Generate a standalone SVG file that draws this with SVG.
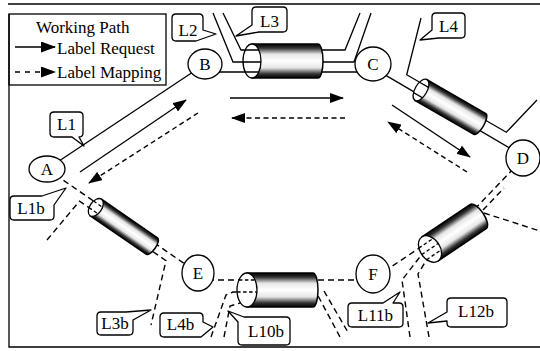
<svg xmlns="http://www.w3.org/2000/svg" width="540" height="351" viewBox="0 0 540 351" font-family="'Liberation Serif', 'DejaVu Serif', serif">
<defs>
<marker id="ah" markerWidth="14" markerHeight="10" refX="13" refY="5" orient="auto" markerUnits="userSpaceOnUse"><path d="M0,0 L14,5 L0,10 Z" fill="#000"/></marker>
<marker id="ahL" markerWidth="15" markerHeight="11" refX="14" refY="5.5" orient="auto" markerUnits="userSpaceOnUse"><path d="M0,0 L15,5.5 L0,11 Z" fill="#000"/></marker>
<linearGradient id="tg" x1="0" y1="0" x2="0" y2="1">
<stop offset="0" stop-color="#000"/>
<stop offset="0.12" stop-color="#333"/>
<stop offset="0.3" stop-color="#e6e6e6"/>
<stop offset="0.5" stop-color="#fff"/>
<stop offset="0.7" stop-color="#e6e6e6"/>
<stop offset="0.88" stop-color="#333"/>
<stop offset="1" stop-color="#000"/>
</linearGradient>
</defs>
<style>
.s{fill:none;stroke:#000;stroke-width:1.3}
.d{fill:none;stroke:#000;stroke-width:1.4;stroke-dasharray:6 4}
.d2{fill:none;stroke:#000;stroke-width:1.3;stroke-dasharray:3.5 2.5}
.da{fill:none;stroke:#000;stroke-width:1.4;stroke-dasharray:5 3.5}
.dl{fill:none;stroke:#000;stroke-width:1.4;stroke-dasharray:5 5}
.n{fill:#fff;stroke:#000;stroke-width:1.3}
.cb{fill:#fff;stroke:#000;stroke-width:1.3;stroke-linejoin:round}
.tb{fill:url(#tg);stroke:#000;stroke-width:1.5}
.te{fill:#fff;stroke:#000;stroke-width:1.3}
text{font-family:'Liberation Serif','DejaVu Serif',serif;font-size:17px;fill:#000}
.c{text-anchor:middle}
</style>
<rect width="540" height="351" fill="#fff"/>
<g id="frame">
<path d="M8,4 H540" fill="none" stroke="#000" stroke-width="1.6"/>
<path class="s" d="M9,14 V347 H540"/>
</g>
<g id="legend">
<rect class="s" x="9" y="14" width="157" height="71"/>
<text x="36" y="33">Working Path</text>
<line class="s" x1="15" y1="47" x2="55" y2="47" marker-end="url(#ahL)"/>
<text x="57" y="54">Label Request</text>
<line class="dl" x1="15" y1="72" x2="55" y2="72" marker-end="url(#ahL)"/>
<text x="57" y="78">Label Mapping</text>
</g>
<g id="connectors">
<line class="s" x1="47" y1="169" x2="205" y2="64"/>
<polyline class="s" points="213,13 233,62 354,62 371,13"/>
<polyline class="s" points="223,13 241,50 345,50 360,13"/>
<line class="s" x1="205" y1="72" x2="373" y2="72"/>
<polyline class="s" points="421,18 406.7,74.8 506.3,132.3 537,100"/>
<line class="s" x1="385" y1="74.9" x2="522.7" y2="155.7"/>
<line class="d" x1="47" y1="169" x2="198" y2="273"/>
<polyline class="d" points="47,240 79.5,201.1 166,260.7 151,325"/>
<line class="d" x1="198" y1="280" x2="373" y2="280"/>
<polyline class="d" points="211,337 226,295 233,292 316,292 340,337"/>
<polyline class="d" points="224,337 230,306 250,300"/>
<line class="d" x1="324" y1="291" x2="349" y2="334"/>
<polyline class="d" points="376,277 470,214 516,166"/>
<polyline class="d" points="410,337 402,280 421.7,254.6"/>
<line class="d" x1="483" y1="210" x2="504" y2="188"/>
<polyline class="d" points="429,337 418,274 426.6,259.7"/>
<line class="d" x1="484" y1="213" x2="540" y2="231"/>
<line class="s" x1="80" y1="172" x2="186" y2="100" marker-end="url(#ah)"/>
<line class="da" x1="198" y1="113" x2="89" y2="183" marker-end="url(#ah)"/>
<line class="s" x1="230" y1="98" x2="343" y2="98" marker-end="url(#ah)"/>
<line class="da" x1="345" y1="118" x2="232" y2="118" marker-end="url(#ah)"/>
<line class="s" x1="392" y1="105" x2="470" y2="157" marker-end="url(#ah)"/>
<line class="da" x1="467" y1="172" x2="388" y2="122" marker-end="url(#ah)"/>
</g>
<g id="tube-BC" transform="translate(252,61)">
<path class="tb" d="M0,-17 H66 A5,17 0 0 1 66,17 H0 Z"/>
<ellipse class="te" rx="9" ry="17"/>
<path class="s" d="M-6.9,-11 H6.9 M-9,1 H9 M-6.9,11 H6.9"/>
</g>
<g id="tube-CD" transform="translate(421,90) rotate(30)">
<path class="tb" d="M0,-12 H68 A4,12 0 0 1 68,12 H0 Z"/>
<ellipse class="te" rx="6" ry="12"/>
<path class="s" d="M-5.2,-6 H5.2 M-5.2,6 H5.2"/>
</g>
<g id="tube-AE" transform="translate(95.8,207.45) rotate(34.55)">
<path class="tb" d="M0,-10 H68 A4,10 0 0 1 68,10 H0 Z"/>
<ellipse class="te" rx="6" ry="10"/>
<path class="d2" d="M-5.5,-4 H5.5 M-5.5,4 H5.5"/>
</g>
<g id="tube-EF" transform="translate(247,290)">
<path class="tb" d="M0,-17 H66 A5,17 0 0 1 66,17 H0 Z"/>
<ellipse class="te" rx="10" ry="17"/>
<path class="d2" d="M-8.1,-10 H8.1 M-9.9,2 H9.9"/>
</g>
<g id="tube-DF" transform="translate(430,249) rotate(-34)">
<path class="tb" d="M0,-14.5 H58 A6,14.5 0 0 1 58,14.5 H0 Z"/>
<ellipse class="te" rx="10" ry="14.5"/>
<path class="d2" d="M-8.8,-7 H8.8 M-10,0 H10 M-8.8,7 H8.8"/>
</g>
<g id="node-A"><ellipse class="n" cx="47" cy="169" rx="18" ry="13"/><text class="c" x="47" y="175">A</text></g>
<g id="node-B"><ellipse class="n" cx="205" cy="64" rx="17" ry="15"/><text class="c" x="205" y="70">B</text></g>
<g id="node-C"><ellipse class="n" cx="373" cy="64" rx="18" ry="17"/><text class="c" x="373" y="70">C</text></g>
<g id="node-D"><ellipse class="n" cx="523" cy="158" rx="17" ry="18"/><text class="c" x="523" y="164">D</text></g>
<g id="node-E"><ellipse class="n" cx="198" cy="273" rx="16" ry="18"/><text class="c" x="198" y="279">E</text></g>
<g id="node-F"><ellipse class="n" cx="373" cy="274" rx="17" ry="19"/><text class="c" x="373" y="280">F</text></g>
<g id="label-L1"><path class="cb" d="M54,112 H79 Q83,112 83,116 V133 Q83,137 79,137 L84,146 L72,137 H54 Q50,137 50,133 V116 Q50,112 54,112 Z"/><text class="c" x="66.5" y="130">L1</text></g>
<g id="label-L1b"><path class="cb" d="M14,196 H42 L66,188 L54,205 V216 Q54,220 50,220 H14 Q10,220 10,216 V200 Q10,196 14,196 Z"/><text class="c" x="31" y="214">L1b</text></g>
<g id="label-L2"><path class="cb" d="M176,14 H199 Q203,14 203,18 V30 L216,34 L196,41 H176 Q172,41 172,37 V18 Q172,14 176,14 Z"/><text class="c" x="188" y="36">L2</text></g>
<g id="label-L3"><path class="cb" d="M256,7 H283 Q287,7 287,11 V28 Q287,32 283,32 H259 L236,36 L252,25 V11 Q252,7 256,7 Z"/><text class="c" x="269.5" y="27">L3</text></g>
<g id="label-L4"><path class="cb" d="M436,13 H461 Q465,13 465,17 V34 Q465,38 461,38 H439 L420,40 L432,30 V17 Q432,13 436,13 Z"/><text class="c" x="448.5" y="32">L4</text></g>
<g id="label-L3b"><path class="cb" d="M101,312 H126 L151,310 L133,320 V331 Q133,335 129,335 H101 Q97,335 97,331 V316 Q97,312 101,312 Z"/><text class="c" x="115" y="329">L3b</text></g>
<g id="label-L4b"><path class="cb" d="M164,313 H199 Q203,313 203,317 V322 L213,327 L201,337 H164 Q160,337 160,333 V317 Q160,313 164,313 Z"/><text class="c" x="180.5" y="330">L4b</text></g>
<g id="label-L10b"><path class="cb" d="M244,317 H286 Q290,317 290,321 V341 Q290,345 286,345 H242 Q238,345 238,341 V322 L228,311 L244,317 Z"/><text class="c" x="266" y="337">L10b</text></g>
<g id="label-L11b"><path class="cb" d="M352,303 H383 L400,292 L393,303 H399 Q403,303 403,307 V323 Q403,327 399,327 H352 Q348,327 348,323 V307 Q348,303 352,303 Z"/><text class="c" x="375.5" y="321">L11b</text></g>
<g id="label-L12b"><path class="cb" d="M451,298 H503 Q507,298 507,302 V323 Q507,327 503,327 H451 Q447,327 447,323 V321 L428,323 L447,312 V302 Q447,298 451,298 Z"/><text class="c" x="476" y="317">L12b</text></g>
</svg>
